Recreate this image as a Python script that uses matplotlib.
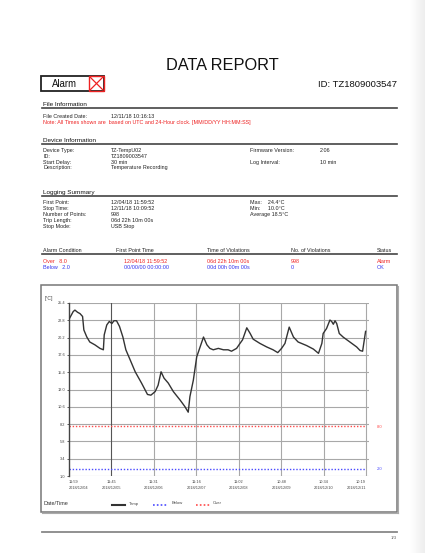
import numpy as np
import matplotlib
matplotlib.use("Agg")
import matplotlib.pyplot as plt
from matplotlib.lines import Line2D
from matplotlib.patches import Rectangle

plt.rcParams['font.family'] = ['Liberation Sans', 'DejaVu Sans']

# Temperature readings (days since first point, degC)
day_pos = [0.00, 0.10, 0.14, 0.20, 0.26, 0.32, 0.35, 0.42, 0.49, 0.61, 0.73, 0.81,
           0.83, 0.89, 0.95, 1.01, 1.06, 1.12, 1.19, 1.27, 1.34, 1.44, 1.56, 1.71,
           1.85, 1.93, 2.03, 2.10, 2.17, 2.24, 2.34, 2.46, 2.62, 2.73, 2.81, 2.85,
           2.93, 3.01, 3.09, 3.17, 3.25, 3.32, 3.40, 3.52, 3.64, 3.75, 3.83, 3.95,
           4.03, 4.09, 4.19, 4.27, 4.34, 4.50, 4.66, 4.81, 4.92, 5.01, 5.09, 5.19,
           5.29, 5.40, 5.60, 5.76, 5.88, 5.96, 5.99, 6.07, 6.15, 6.19, 6.23, 6.27,
           6.31, 6.37, 6.46, 6.62, 6.78, 6.86, 6.92, 6.99]
temps = [23.1, 24.2, 24.4, 24.1, 23.9, 23.5, 21.6, 20.6, 19.9, 19.5, 19.0, 18.8,
         20.9, 22.3, 22.8, 22.5, 22.9, 22.9, 22.1, 20.6, 18.8, 17.4, 15.7, 14.1,
         12.5, 12.4, 12.9, 13.8, 15.7, 14.8, 14.1, 12.9, 11.7, 10.8, 10.0, 12.2,
         14.5, 17.8, 19.2, 20.6, 19.5, 19.0, 18.8, 19.0, 18.8, 18.8, 18.6, 19.0,
         19.7, 20.2, 21.9, 21.1, 20.3, 19.7, 19.2, 18.8, 18.4, 19.0, 19.7, 22.0,
         20.6, 19.9, 19.4, 18.9, 18.3, 19.7, 21.1, 21.8, 23.0, 22.8, 22.4, 22.9,
         22.5, 21.1, 20.6, 19.9, 19.2, 18.7, 18.6, 21.4]

over_limit = 8.0
below_limit = 2.0

x_tick_labels = ["11:59\n2018/12/04", "11:45\n2018/12/05", "11:31\n2018/12/06",
                 "11:16\n2018/12/07", "11:02\n2018/12/08", "10:48\n2018/12/09",
                 "10:34\n2018/12/10", "10:19\n2018/12/11"]
y_tick_labels = ["1.0", "3.4", "5.8", "8.2", "10.6", "13.0", "15.4", "17.6",
                 "20.2", "22.8", "25.4"]

device_left = [("Device Type:", "TZ-TempU02"), ("ID:", "TZ1809003547"),
               ("Start Delay:", "30 min"), ("Description:", "Temperature Recording")]
device_right = [("Firmware Version:", "2.06"), ("", ""), ("Log Interval:", "10 min")]
summary_left = [("First Point:", "12/04/18 11:59:52"), ("Stop Time:", "12/11/18 10:09:52"),
                ("Number of Points:", "998"), ("Trip Length:", "06d 22h 10m 00s"),
                ("Stop Mode:", "USB Stop")]
summary_right = ["Max:    24.4\u00b0C", "Min:     10.0\u00b0C", "Average 18.5\u00b0C"]
alarm_header = ["Alarm Condition", "First Point Time", "Time of Violations",
                "No. of Violations", "Status"]
alarm_over = ["Over   8.0", "12/04/18 11:59:52", "06d 22h 10m 00s", "998", "Alarm"]
alarm_below = ["Below   2.0", "00/00/00 00:00:00", "00d 00h 00m 00s", "0", "OK"]

W, H = 425, 553
fig = plt.figure(figsize=(W / 100, H / 100), dpi=100)
fig.patch.set_facecolor('white')


def fx(x):
    return x / W


def fy(y):
    return 1 - y / H


def txt(x, y, s, size=3.9, color='#222222', ha='left', **kw):
    # y is the visual middle of the capitals; place on the baseline so rows stay even
    fig.text(fx(x), fy(y + size * 0.5), s, fontsize=size, color=color, ha=ha,
             va='baseline', **kw)


def hline(x0, x1, y, color='#444444', lw=1.0):
    fig.add_artist(Line2D([fx(x0), fx(x1)], [fy(y), fy(y)], transform=fig.transFigure,
                          color=color, lw=lw))


# page shadow on the right
shade = fig.add_axes([fx(410), 0, fx(425) - fx(410), 1])
shade.imshow(np.linspace(1.0, 0.93, 50)[None, :], cmap='gray', vmin=0, vmax=1,
             aspect='auto', extent=[0, 1, 0, 1])
shade.axis('off')

# header
txt(222, 64, "DATA REPORT", size=11.8, color='#111111', ha='center')
fig.add_artist(Rectangle((fx(41), fy(91)), fx(104) - fx(41), fy(76) - fy(91),
                         transform=fig.transFigure, fill=False, ec='#222222', lw=1.3))
fig.add_artist(Rectangle((fx(89), fy(91)), fx(104) - fx(89), fy(76) - fy(91),
                         transform=fig.transFigure, fill=False, ec='#ee2222', lw=1.0))
fig.add_artist(Line2D([fx(90), fx(103)], [fy(77), fy(90)], transform=fig.transFigure,
                      color='#ee2222', lw=0.9))
fig.add_artist(Line2D([fx(90), fx(103)], [fy(90), fy(77)], transform=fig.transFigure,
                      color='#ee2222', lw=0.9))
txt(52, 83.5, "Alarm", size=6.9, color='#111111')
txt(397, 84, "ID: TZ1809003547", size=6.8, color='#111111', ha='right')

# file information
txt(43, 104, "File Information", size=4.6, color='#111111')
hline(42, 397, 108, lw=1.2)
txt(43, 116, "File Created Date:")
txt(111, 116, "12/11/18 10:16:13")
txt(43, 122, "Note: All Times shown are  based on UTC and 24-Hour clock. [MM/DD/YY HH:MM:SS]",
    color='#ee2222')

# device information
txt(43, 140, "Device Information", size=4.6, color='#111111')
hline(42, 397, 144, lw=1.2)
for i, (lab, val) in enumerate(device_left):
    txt(43, 150 + i * 5.8, lab)
    txt(111, 150 + i * 5.8, val)
for i, (lab, val) in enumerate(device_right):
    txt(250, 150 + i * 5.8, lab)
    txt(320, 150 + i * 5.8, val)

# logging summary
txt(43, 192, "Logging Summary", size=4.6, color='#111111')
hline(42, 397, 196, lw=1.2)
for i, (lab, val) in enumerate(summary_left):
    txt(43, 202 + i * 6, lab)
    txt(111, 202 + i * 6, val)
for i, s in enumerate(summary_right):
    txt(250, 202 + i * 6, s)

# alarm table
col_x = [43, 116, 207, 291, 377]
val_x = [43, 124, 207, 291, 377]
for x, s in zip(col_x, alarm_header):
    txt(x, 250, s)
hline(42, 397, 254, lw=1.2)
for x, s in zip(val_x, alarm_over):
    txt(x, 261, s, color='#ee2222')
for x, s in zip(val_x, alarm_below):
    txt(x, 267, s, color='#3333ee')

# chart frame
fig.add_artist(Rectangle((fx(41), fy(512)), fx(397) - fx(41), fy(285) - fy(512),
                         transform=fig.transFigure, fill=False, ec='#777777', lw=1.1))
hline(42, 398, 513, color='#aaaaaa', lw=0.8)
fig.add_artist(Line2D([fx(398), fx(398)], [fy(286), fy(513)], transform=fig.transFigure,
                      color='#aaaaaa', lw=0.8))

ax = fig.add_axes([fx(69), fy(476), fx(369) - fx(69), fy(303) - fy(476)])
y_ticks = np.linspace(1.0, 25.4, len(y_tick_labels))
x_ticks = np.arange(len(x_tick_labels))
ax.set_xlim(0, 7 * 300 / 297)
ax.set_ylim(1.0, 25.4)
for yt in y_ticks:
    ax.axhline(yt, color='#a8a8a8', lw=0.8, zorder=1)
for i, xt in enumerate(x_ticks[1:]):
    ax.axvline(xt, color='#555555' if i == 0 else '#a8a8a8', lw=0.8, zorder=1)
ax.axhline(over_limit, xmax=7 / (7 * 300 / 297), color='#ff4a4a', lw=1.0,
           ls=(0, (1, 1.3)), zorder=2)
ax.axhline(below_limit, xmax=7 / (7 * 300 / 297), color='#4a4aff', lw=1.0,
           ls=(0, (1, 1.3)), zorder=2)
ax.plot(day_pos, temps, color='#333333', lw=1.0, zorder=3)

for side in ['top', 'right', 'bottom']:
    ax.spines[side].set_visible(False)
ax.spines['left'].set_color('#444444')
ax.spines['left'].set_linewidth(1.0)
ax.set_yticks(y_ticks)
ax.set_yticklabels(y_tick_labels, fontsize=2.8, color='#444444')
ax.tick_params(axis='y', length=1.5, width=0.6, pad=1, colors='#444444')
ax.set_xticks(x_ticks)
ax.set_xticklabels(x_tick_labels, fontsize=2.8, color='#444444', linespacing=1.6)
ax.tick_params(axis='x', length=0, pad=3)
labels = ax.get_xticklabels()
labels[0].set_ha('left')
labels[-1].set_ha('right')
ax.set_facecolor('white')

txt(45, 298, "[\u00b0C]", size=3.6, color='#444444')
txt(377, 426.5, "8.0", size=3.0, color='#ff4a4a')
txt(377, 469, "2.0", size=3.0, color='#4a4aff')

# legend row
txt(44, 503, "Date/Time", size=4.0, color='#333333')
fig.add_artist(Line2D([fx(112), fx(125)], [fy(505), fy(505)], transform=fig.transFigure,
                      color='#333333', lw=1.5))
txt(129, 503, "Temp", size=3.0, color='#444444')
fig.add_artist(Line2D([fx(153), fx(168)], [fy(505), fy(505)], transform=fig.transFigure,
                      color='#4a4aff', lw=1.2, ls=(0, (1, 1.3))))
txt(172, 503, "Below", size=3.0, color='#444444')
fig.add_artist(Line2D([fx(196), fx(210)], [fy(505), fy(505)], transform=fig.transFigure,
                      color='#ff4a4a', lw=1.2, ls=(0, (1, 1.3))))
txt(213, 503, "Over", size=3.0, color='#444444')

# footer
hline(42, 397, 532, color='#888888', lw=1.3)
txt(397, 537, "1/3", size=3.2, color='#666666', ha='right')

fig.savefig("out.png", dpi=100)
